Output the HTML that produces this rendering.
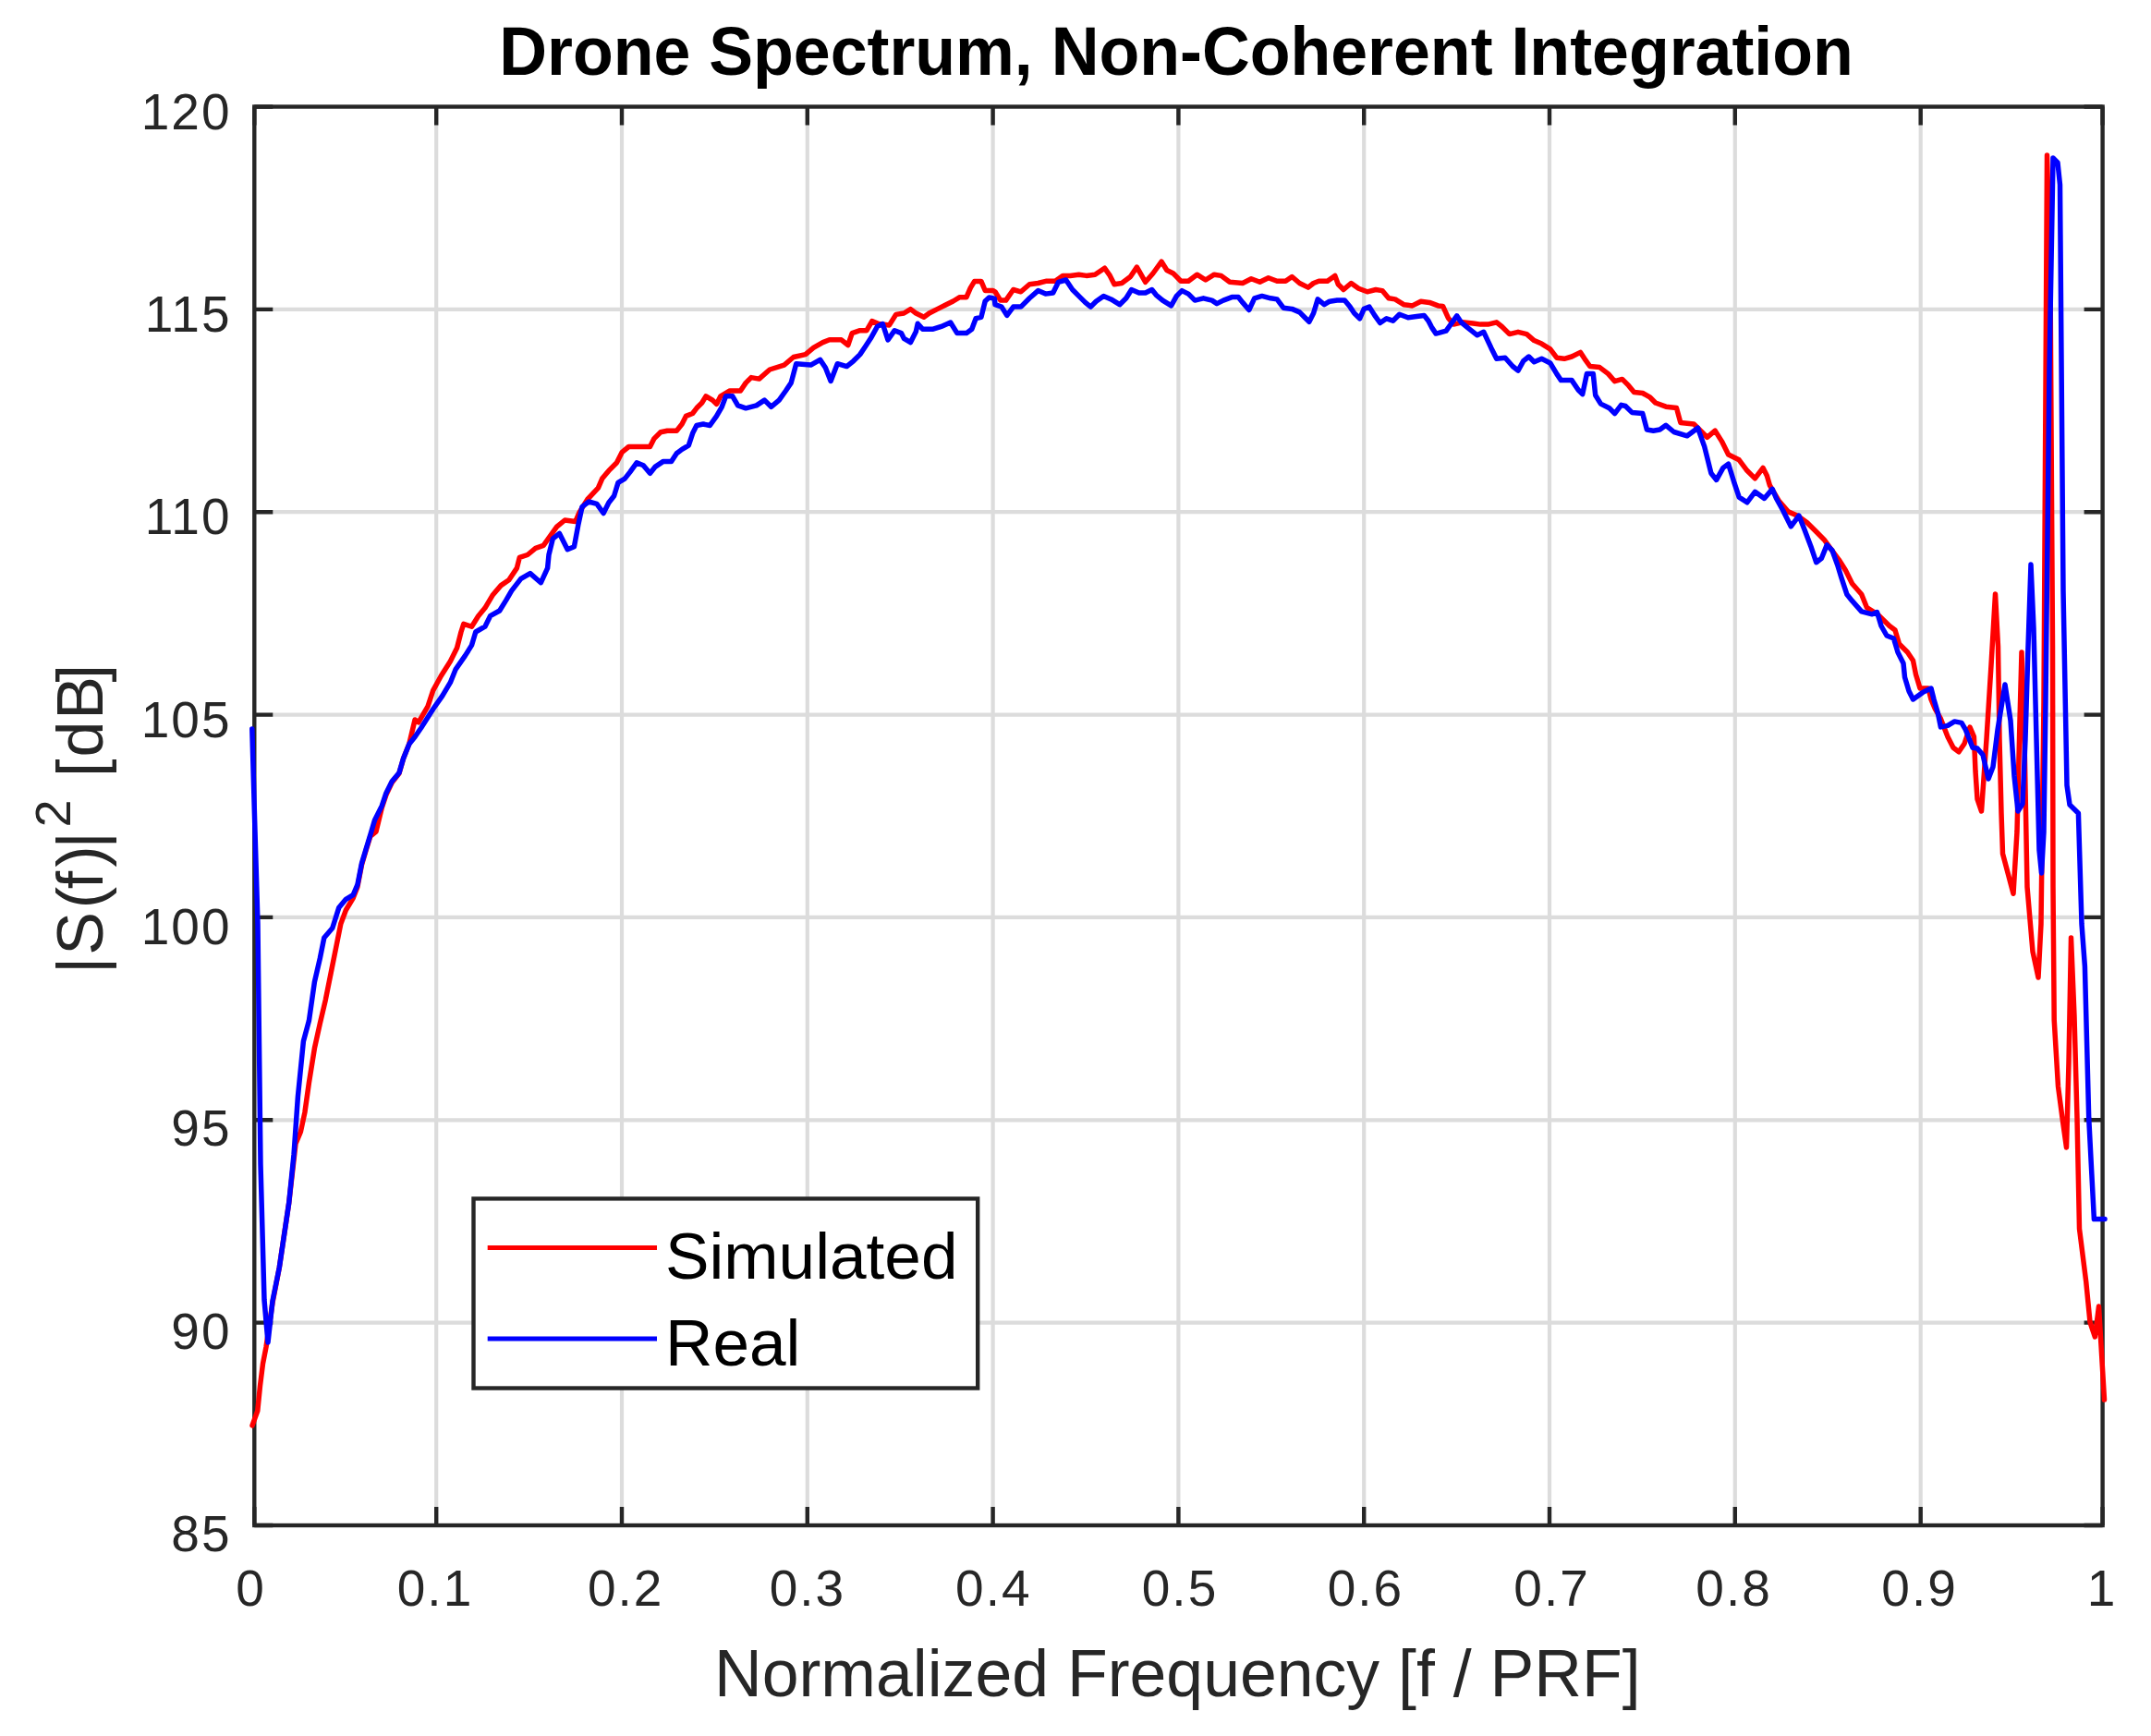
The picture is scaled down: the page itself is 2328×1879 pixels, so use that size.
<!DOCTYPE html>
<html><head><meta charset="utf-8"><title>Drone Spectrum, Non-Coherent Integration</title>
<style>html,body{margin:0;padding:0;background:#fff;}body{width:2328px;height:1879px;overflow:hidden;}svg{display:block;}</style>
</head><body>
<svg width="2328" height="1879" viewBox="0 0 2328 1879">
<rect x="0" y="0" width="2328" height="1879" fill="#ffffff"/>
<path d="M472.2 115.5V1651.0 M673.0 115.5V1651.0 M873.8 115.5V1651.0 M1074.6 115.5V1651.0 M1275.4 115.5V1651.0 M1476.2 115.5V1651.0 M1677.0 115.5V1651.0 M1877.8 115.5V1651.0 M2078.7 115.5V1651.0 M275.3 1431.6H2275.6 M275.3 1212.3H2275.6 M275.3 992.9H2275.6 M275.3 773.6H2275.6 M275.3 554.2H2275.6 M275.3 334.9H2275.6" stroke="#dcdcdc" stroke-width="4.2" fill="none"/>
<path d="M275.3 1651.0V1631.0 M275.3 115.5V135.5 M472.2 1651.0V1631.0 M472.2 115.5V135.5 M673.0 1651.0V1631.0 M673.0 115.5V135.5 M873.8 1651.0V1631.0 M873.8 115.5V135.5 M1074.6 1651.0V1631.0 M1074.6 115.5V135.5 M1275.4 1651.0V1631.0 M1275.4 115.5V135.5 M1476.2 1651.0V1631.0 M1476.2 115.5V135.5 M1677.0 1651.0V1631.0 M1677.0 115.5V135.5 M1877.8 1651.0V1631.0 M1877.8 115.5V135.5 M2078.7 1651.0V1631.0 M2078.7 115.5V135.5 M2275.6 1651.0V1631.0 M2275.6 115.5V135.5 M275.3 1651.0H295.3 M2275.6 1651.0H2255.6 M275.3 1431.6H295.3 M2275.6 1431.6H2255.6 M275.3 1212.3H295.3 M2275.6 1212.3H2255.6 M275.3 992.9H295.3 M2275.6 992.9H2255.6 M275.3 773.6H295.3 M2275.6 773.6H2255.6 M275.3 554.2H295.3 M2275.6 554.2H2255.6 M275.3 334.9H295.3 M2275.6 334.9H2255.6 M275.3 115.5H295.3 M2275.6 115.5H2255.6" stroke="#262626" stroke-width="4.4" fill="none"/>
<rect x="275.3" y="115.5" width="2000.3" height="1535.5" fill="none" stroke="#262626" stroke-width="4.4"/>
<polyline points="273.0,1543.0 278.8,1527.0 281.5,1500.0 284.5,1476.0 288.0,1458.0 295.0,1410.0 302.3,1372.0 312.7,1302.0 320.0,1238.0 325.4,1225.0 329.9,1204.0 334.4,1172.0 340.4,1134.7 346.3,1107.8 352.3,1082.3 359.8,1044.9 364.3,1022.5 368.8,1000.0 374.4,985.0 382.2,972.0 386.9,960.0 391.5,936.0 396.2,920.0 400.9,905.0 407.0,900.0 413.3,874.0 418.0,860.0 424.2,847.0 432.0,837.0 436.6,821.0 442.9,805.0 449.1,779.0 452.9,781.9 463.0,764.7 468.7,747.4 477.4,731.5 487.4,715.7 494.6,701.3 499.0,684.0 501.8,675.4 510.5,678.2 517.7,666.7 524.9,658.1 533.5,643.7 542.2,633.6 550.8,627.8 559.4,614.9 562.3,603.4 571.0,600.5 579.6,593.3 588.2,590.4 602.6,570.2 611.3,563.0 622.8,564.5 627.1,554.4 635.8,540.5 647.4,528.2 651.7,518.1 658.9,509.4 667.5,500.8 673.3,489.3 680.5,483.5 703.5,483.5 707.8,474.9 715.0,467.7 722.2,466.2 732.3,466.2 738.1,459.0 742.4,450.4 749.6,447.5 753.9,441.8 759.7,436.0 764.0,428.8 771.2,433.1 775.5,437.4 779.9,428.8 789.9,423.0 801.4,423.0 807.2,414.4 813.0,408.6 821.6,410.1 833.1,400.0 848.7,395.1 858.8,386.5 871.8,383.6 880.4,376.4 890.5,370.6 897.7,367.8 910.6,367.8 917.8,373.5 922.2,360.6 930.8,357.7 938.0,357.7 943.8,347.6 951.0,350.5 962.5,351.9 969.7,340.4 978.3,339.0 985.5,334.6 991.3,339.0 999.9,343.3 1005.7,339.0 1014.3,334.6 1023.0,330.3 1031.6,326.0 1038.8,321.7 1046.0,321.7 1050.3,311.6 1054.7,304.4 1061.9,304.4 1066.2,314.5 1074.8,314.5 1077.0,315.8 1082.8,325.1 1088.6,325.1 1096.7,313.5 1104.9,315.8 1114.2,307.7 1123.5,306.5 1132.8,304.2 1142.1,304.2 1150.2,298.4 1158.3,298.4 1167.6,297.2 1175.8,298.4 1185.1,297.2 1195.5,290.2 1201.3,298.4 1206.0,307.7 1214.1,306.5 1223.4,299.5 1230.4,289.1 1239.7,305.3 1247.8,296.0 1257.1,283.2 1262.9,292.5 1269.9,296.0 1278.0,304.2 1286.2,304.2 1295.5,297.2 1304.8,303.0 1314.1,297.2 1321.6,298.4 1330.9,305.3 1344.9,306.5 1354.2,301.8 1363.5,305.3 1372.8,300.7 1382.1,304.2 1391.4,304.2 1398.3,299.5 1406.5,306.5 1415.8,311.1 1421.6,306.5 1427.4,304.2 1436.7,304.2 1444.8,298.4 1448.3,307.7 1454.1,313.5 1462.3,306.5 1470.4,312.3 1479.7,315.8 1489.0,313.5 1496.0,314.6 1502.9,322.8 1509.9,323.9 1519.2,329.7 1528.5,330.9 1537.8,326.2 1547.1,327.4 1556.4,330.9 1561.6,331.4 1567.4,344.2 1573.2,351.1 1582.5,348.8 1594.2,350.0 1602.3,351.1 1610.4,351.1 1619.7,348.8 1625.5,353.5 1633.7,361.6 1643.0,359.3 1652.3,361.6 1660.4,368.6 1668.5,372.1 1677.8,377.9 1684.8,387.2 1693.0,388.3 1701.1,386.0 1710.4,381.4 1715.0,388.3 1720.8,396.5 1731.3,397.6 1740.6,404.6 1747.6,412.7 1755.7,410.4 1762.7,417.4 1768.5,424.4 1777.8,425.5 1786.0,430.2 1791.7,436.0 1803.0,440.2 1814.5,441.6 1818.8,457.4 1833.2,458.9 1847.6,473.3 1856.2,466.1 1863.4,477.6 1870.6,492.0 1882.2,497.8 1890.8,509.3 1899.4,517.9 1908.1,506.4 1912.4,515.0 1915.3,525.1 1925.4,542.4 1935.4,553.9 1945.5,558.2 1955.6,565.5 1965.7,575.5 1974.3,584.2 1981.5,594.2 1990.2,605.8 1997.4,617.3 2004.6,631.7 2014.7,643.2 2020.4,657.6 2031.9,664.8 2045.0,677.5 2051.0,682.0 2055.5,697.0 2064.5,706.0 2070.5,715.0 2073.5,730.0 2078.0,745.0 2087.0,745.0 2090.0,757.0 2094.4,767.4 2100.4,777.9 2108.0,797.4 2114.0,809.3 2120.0,813.8 2126.0,805.0 2132.0,787.0 2136.4,797.4 2138.0,834.8 2140.0,864.8 2144.5,878.0 2150.0,800.0 2155.0,720.0 2159.5,643.0 2162.5,700.0 2164.0,800.0 2166.0,880.0 2167.5,924.0 2173.3,945.7 2179.0,967.3 2183.0,900.0 2186.0,780.0 2188.0,706.0 2191.0,800.0 2194.0,960.0 2200.0,1030.0 2206.0,1058.0 2209.0,1000.0 2212.0,760.0 2215.5,168.0 2219.0,300.0 2221.5,700.0 2222.0,960.0 2223.2,1104.0 2227.5,1176.0 2232.0,1210.0 2236.5,1242.0 2239.0,1150.0 2241.5,1015.0 2245.0,1100.0 2248.0,1210.0 2250.5,1330.0 2257.7,1387.0 2262.0,1431.0 2267.4,1447.0 2271.5,1414.0 2277.5,1515.0" fill="none" stroke="#ff0000" stroke-width="5.5" stroke-linejoin="round" stroke-linecap="round"/>
<polyline points="272.8,789.0 276.0,900.0 279.0,1000.0 282.0,1260.0 286.0,1407.0 290.0,1453.0 295.0,1408.0 302.3,1372.0 312.7,1302.0 318.0,1250.0 322.4,1187.0 328.4,1127.0 334.4,1104.8 340.4,1062.9 346.3,1037.4 350.8,1015.0 359.8,1004.5 366.7,982.6 374.4,973.3 382.2,968.6 386.9,957.7 391.5,934.4 396.2,918.8 400.9,903.3 405.5,887.7 413.3,872.2 418.0,858.2 424.2,845.8 432.0,836.4 436.6,820.9 442.9,805.3 449.1,797.5 455.8,787.7 468.7,767.5 478.8,753.1 487.4,738.7 493.2,724.3 503.3,709.9 510.5,698.4 514.8,684.0 524.9,678.2 530.6,666.7 540.7,661.0 547.9,649.4 553.7,639.4 563.8,626.4 573.8,620.6 585.4,630.7 592.6,614.9 594.0,600.5 598.3,583.2 605.5,577.4 614.2,594.7 621.4,591.8 625.7,568.8 630.0,548.6 637.2,543.0 645.9,545.4 653.1,555.5 658.9,544.0 664.6,536.8 669.0,522.4 676.2,518.1 681.9,510.9 689.1,500.8 696.3,503.7 703.5,512.3 709.3,505.1 717.9,499.4 726.6,499.4 732.3,490.7 738.1,486.4 745.3,482.1 749.6,469.1 753.9,460.5 761.1,459.0 768.3,460.5 775.5,450.4 781.3,440.3 785.6,428.8 792.8,428.8 798.6,438.9 807.2,441.8 818.7,438.9 827.4,433.1 834.6,440.3 843.2,433.1 850.4,423.0 856.2,414.4 861.7,393.7 877.5,395.1 887.6,389.4 893.4,398.0 899.1,412.4 906.3,393.7 916.4,396.6 923.6,390.8 930.8,383.6 936.6,375.0 942.3,366.3 949.5,353.4 955.3,350.5 961.0,367.8 968.2,357.7 975.4,360.6 978.3,366.3 985.5,370.6 991.3,359.1 993.2,350.3 998.5,356.2 1010.0,356.2 1018.7,353.4 1028.7,349.0 1035.9,360.6 1046.0,360.6 1051.8,356.2 1056.1,344.7 1061.9,343.3 1066.2,326.0 1070.5,322.0 1076.3,323.1 1077.0,329.7 1084.0,332.1 1089.8,341.4 1096.7,332.1 1104.9,332.1 1114.2,322.8 1123.5,314.6 1131.6,318.1 1139.7,317.0 1145.5,305.3 1153.7,303.0 1160.7,313.5 1168.8,321.6 1174.6,327.4 1180.4,332.1 1186.2,326.2 1194.4,320.4 1202.5,323.9 1211.8,329.7 1218.8,322.8 1224.6,313.5 1232.7,317.0 1239.7,317.0 1246.7,313.5 1251.3,319.3 1258.3,325.1 1267.6,330.9 1273.4,320.4 1279.2,314.6 1286.2,318.1 1293.2,325.1 1302.4,322.8 1311.7,325.1 1317.0,328.6 1324.0,325.1 1333.2,321.6 1340.2,321.6 1344.9,327.4 1351.8,335.5 1357.7,322.8 1365.8,320.4 1375.1,322.8 1382.1,323.9 1389.0,333.2 1398.3,334.4 1406.5,337.9 1412.3,343.7 1416.9,348.3 1421.6,339.0 1426.2,323.9 1433.2,329.7 1439.0,326.2 1447.2,325.1 1455.3,325.1 1461.1,332.1 1465.7,339.0 1471.6,344.8 1476.2,334.4 1482.0,332.1 1487.8,341.4 1493.6,349.5 1500.6,344.8 1507.6,347.2 1514.6,340.2 1523.9,343.7 1533.1,342.5 1541.3,341.4 1545.9,347.2 1549.4,354.1 1554.1,361.1 1557.0,360.4 1565.1,358.1 1576.7,341.8 1581.4,348.8 1588.4,354.6 1598.8,362.8 1605.8,359.3 1613.9,376.7 1619.7,388.3 1629.0,387.2 1637.2,396.5 1643.0,401.1 1648.8,390.7 1654.6,386.0 1660.4,391.8 1668.5,388.3 1677.8,393.0 1684.8,404.6 1689.5,411.6 1701.1,411.6 1708.1,422.0 1712.7,426.7 1717.4,404.6 1724.3,404.6 1726.7,427.8 1732.5,437.1 1741.8,441.8 1747.6,447.6 1754.6,438.3 1759.2,439.5 1766.2,446.4 1777.8,447.6 1782.4,465.0 1789.4,466.2 1796.4,465.0 1803.0,460.3 1811.6,467.5 1826.0,471.8 1837.5,463.2 1844.7,483.4 1847.6,494.9 1851.9,512.2 1857.7,519.4 1864.9,506.4 1870.6,502.1 1876.4,520.8 1882.2,538.1 1890.8,543.8 1899.4,532.3 1909.5,539.5 1918.2,529.4 1922.5,539.5 1929.7,552.5 1938.3,569.8 1947.0,558.2 1952.7,572.6 1959.9,591.4 1965.7,608.7 1971.4,604.3 1977.2,589.9 1983.0,595.7 1988.7,611.5 1993.1,625.9 1998.8,643.2 2004.6,650.4 2014.7,661.9 2026.2,664.8 2031.5,662.5 2036.0,677.5 2042.0,688.0 2049.5,691.0 2054.0,706.0 2060.0,718.0 2061.5,733.0 2066.0,748.0 2070.5,757.0 2081.0,749.4 2090.0,745.0 2093.0,757.0 2097.4,772.0 2100.4,786.9 2108.0,785.4 2115.4,780.9 2123.0,782.4 2127.4,789.9 2135.0,809.3 2140.0,810.0 2146.0,817.0 2152.0,843.0 2157.0,830.0 2162.0,790.0 2170.0,741.0 2176.0,780.0 2180.0,840.0 2184.0,878.0 2189.0,870.0 2192.0,800.0 2195.0,700.0 2198.0,611.0 2201.0,680.0 2204.0,800.0 2207.0,920.0 2209.5,945.0 2212.0,900.0 2214.0,760.0 2218.0,400.0 2222.0,171.0 2227.0,176.0 2229.5,200.0 2233.0,640.0 2237.0,850.0 2240.0,871.0 2249.4,880.3 2253.0,1000.0 2256.4,1046.0 2260.7,1210.0 2266.4,1319.6 2278.0,1319.6" fill="none" stroke="#0000ff" stroke-width="5.5" stroke-linejoin="round" stroke-linecap="round"/>
<rect x="512.5" y="1297.4" width="545.7" height="205.1" fill="#ffffff" stroke="#262626" stroke-width="4.4"/>
<line x1="527.7" y1="1350.6" x2="711" y2="1350.6" stroke="#ff0000" stroke-width="5"/>
<line x1="527.7" y1="1449" x2="711" y2="1449" stroke="#0000ff" stroke-width="5"/>
<text x="720" y="1383.8" font-family="'Liberation Sans', Arial, Helvetica, sans-serif" font-size="71.2" fill="#000000">Simulated</text>
<text x="720" y="1478.2" font-family="'Liberation Sans', Arial, Helvetica, sans-serif" font-size="71.2" fill="#000000">Real</text>
<text x="250.5" y="139.6" font-family="'Liberation Sans', Arial, Helvetica, sans-serif" font-size="55" fill="#262626" text-anchor="end" letter-spacing="2">120</text>
<text x="250.5" y="359" font-family="'Liberation Sans', Arial, Helvetica, sans-serif" font-size="55" fill="#262626" text-anchor="end" letter-spacing="2">115</text>
<text x="250.5" y="577.7" font-family="'Liberation Sans', Arial, Helvetica, sans-serif" font-size="55" fill="#262626" text-anchor="end" letter-spacing="2">110</text>
<text x="250.5" y="797.8" font-family="'Liberation Sans', Arial, Helvetica, sans-serif" font-size="55" fill="#262626" text-anchor="end" letter-spacing="2">105</text>
<text x="250.5" y="1021.8" font-family="'Liberation Sans', Arial, Helvetica, sans-serif" font-size="55" fill="#262626" text-anchor="end" letter-spacing="2">100</text>
<text x="250.5" y="1239.9" font-family="'Liberation Sans', Arial, Helvetica, sans-serif" font-size="55" fill="#262626" text-anchor="end" letter-spacing="2">95</text>
<text x="250.5" y="1460" font-family="'Liberation Sans', Arial, Helvetica, sans-serif" font-size="55" fill="#262626" text-anchor="end" letter-spacing="2">90</text>
<text x="250.5" y="1678.5" font-family="'Liberation Sans', Arial, Helvetica, sans-serif" font-size="55" fill="#262626" text-anchor="end" letter-spacing="2">85</text>
<text x="271.6" y="1737.8" font-family="'Liberation Sans', Arial, Helvetica, sans-serif" font-size="55" fill="#262626" text-anchor="middle" letter-spacing="2">0</text>
<text x="471.0" y="1737.8" font-family="'Liberation Sans', Arial, Helvetica, sans-serif" font-size="55" fill="#262626" text-anchor="middle" letter-spacing="2">0.1</text>
<text x="677.2" y="1737.8" font-family="'Liberation Sans', Arial, Helvetica, sans-serif" font-size="55" fill="#262626" text-anchor="middle" letter-spacing="2">0.2</text>
<text x="873.9" y="1737.8" font-family="'Liberation Sans', Arial, Helvetica, sans-serif" font-size="55" fill="#262626" text-anchor="middle" letter-spacing="2">0.3</text>
<text x="1075.3" y="1737.8" font-family="'Liberation Sans', Arial, Helvetica, sans-serif" font-size="55" fill="#262626" text-anchor="middle" letter-spacing="2">0.4</text>
<text x="1277.0" y="1737.8" font-family="'Liberation Sans', Arial, Helvetica, sans-serif" font-size="55" fill="#262626" text-anchor="middle" letter-spacing="2">0.5</text>
<text x="1477.9" y="1737.8" font-family="'Liberation Sans', Arial, Helvetica, sans-serif" font-size="55" fill="#262626" text-anchor="middle" letter-spacing="2">0.6</text>
<text x="1679.6" y="1737.8" font-family="'Liberation Sans', Arial, Helvetica, sans-serif" font-size="55" fill="#262626" text-anchor="middle" letter-spacing="2">0.7</text>
<text x="1876.6" y="1737.8" font-family="'Liberation Sans', Arial, Helvetica, sans-serif" font-size="55" fill="#262626" text-anchor="middle" letter-spacing="2">0.8</text>
<text x="2077.6" y="1737.8" font-family="'Liberation Sans', Arial, Helvetica, sans-serif" font-size="55" fill="#262626" text-anchor="middle" letter-spacing="2">0.9</text>
<text x="2275.0" y="1737.8" font-family="'Liberation Sans', Arial, Helvetica, sans-serif" font-size="55" fill="#262626" text-anchor="middle" letter-spacing="2">1</text>
<text x="1274.3" y="1836" font-family="'Liberation Sans', Arial, Helvetica, sans-serif" font-size="71.6" fill="#262626" text-anchor="middle">Normalized Frequency [f / PRF]</text>
<text transform="translate(111 0) rotate(-90)" y="0" font-family="'Liberation Sans', Arial, Helvetica, sans-serif" font-size="70" fill="#262626" text-anchor="middle"><tspan x="-1045.0">|</tspan><tspan x="-1010.5">S</tspan><tspan x="-971.5">(</tspan><tspan x="-952.5">f</tspan><tspan x="-927.0">)</tspan><tspan x="-909.4">|</tspan><tspan x="-880.6" y="-35" font-size="54">2</tspan><tspan x="-831.2" y="0">[</tspan><tspan x="-800.0" y="0">d</tspan><tspan x="-755.3" y="0">B</tspan><tspan x="-728.7" y="0">]</tspan></text>
<text transform="translate(1273 81) scale(1 1.03)" x="0" y="0" font-family="'Liberation Sans', Arial, Helvetica, sans-serif" font-size="71.7" font-weight="bold" fill="#000000" text-anchor="middle">Drone Spectrum, Non-Coherent Integration</text>
</svg>
</body></html>
